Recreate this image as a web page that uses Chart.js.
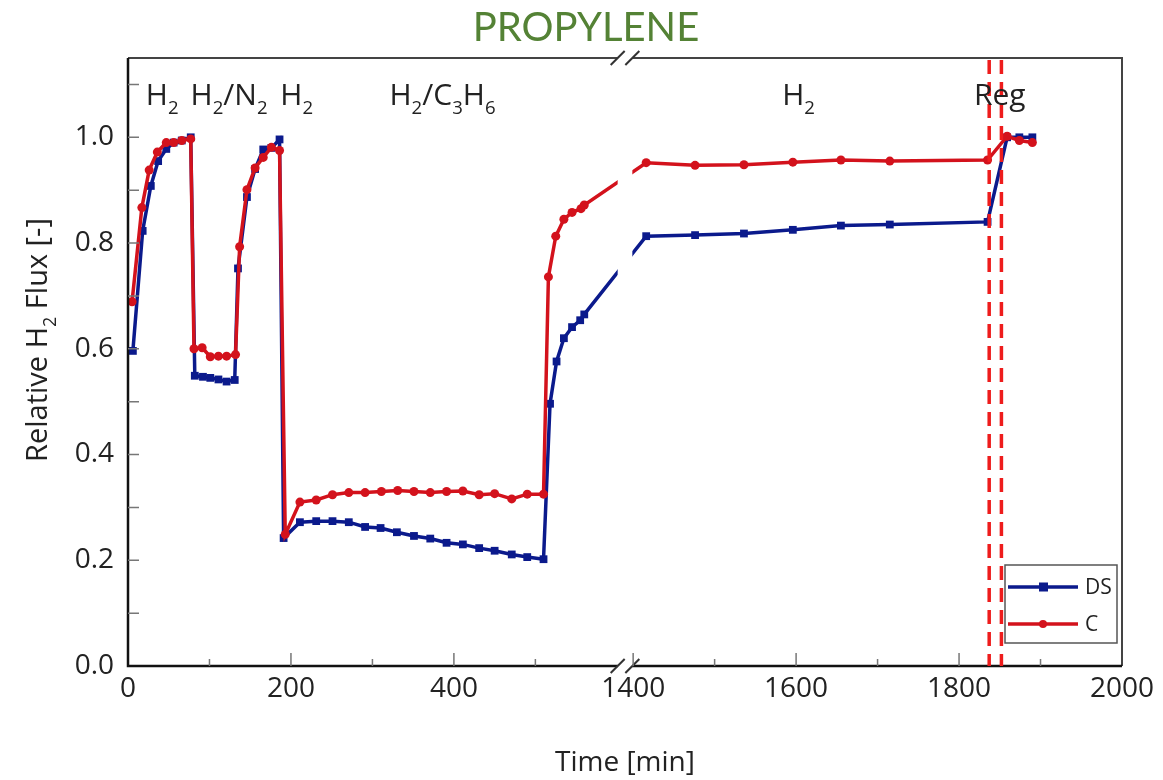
<!DOCTYPE html>
<html>
<head>
<meta charset="utf-8">
<script src="https://cdn.jsdelivr.net/npm/chart.js@4.4.0/dist/chart.umd.min.js"></script>
<style>
html, body { margin: 0; padding: 0; background: #fff; }
</style>
</head>
<body>
<canvas id="propileno" width="1163" height="780"></canvas>
<script>
// datos (tiempo en min, flujo relativo de H2)
const tiempo_ds = [6, 18, 28, 37, 47, 56, 66, 77,
    82, 92, 101, 111, 121, 131,
    135, 146, 156, 166, 176, 186,
    191, 211, 231, 251, 271, 291, 310, 330, 351, 371, 391, 411, 431, 450, 471, 490, 510,
    518, 526, 535, 545, 555, 560,
    1416, 1476, 1536, 1596, 1655, 1715, 1835, 1859, 1874, 1890]
const flujo_ds = [0.596, 0.823, 0.908, 0.955, 0.978, 0.99, 0.994, 1.0,
    0.549, 0.547, 0.545, 0.542, 0.538, 0.541,
    0.752, 0.887, 0.94, 0.977, 0.98, 0.996,
    0.242, 0.272, 0.274, 0.274, 0.272, 0.263, 0.261, 0.253, 0.246, 0.241, 0.233, 0.23, 0.223, 0.218, 0.211, 0.206, 0.202,
    0.496, 0.576, 0.62, 0.641, 0.654, 0.665,
    0.813, 0.815, 0.818, 0.825, 0.833, 0.835, 0.84, 1.0, 1.0, 1.0]

const tiempo_c = [5, 17, 26, 36, 47, 56, 66, 77,
    81, 91, 101, 111, 121, 132,
    137, 146, 156, 166, 176, 186,
    193, 211, 231, 251, 271, 291, 311, 331, 351, 371, 391, 411, 431, 450, 471, 490, 510,
    516, 525, 535, 545, 556, 560,
    1416, 1476, 1536, 1596, 1655, 1715, 1835, 1859, 1874, 1890]
const flujo_c = [0.689, 0.867, 0.938, 0.972, 0.99, 0.99, 0.994, 0.997,
    0.60, 0.602, 0.585, 0.586, 0.586, 0.589,
    0.793, 0.901, 0.942, 0.962, 0.981, 0.975,
    0.249, 0.31, 0.314, 0.324, 0.328, 0.328, 0.33, 0.332, 0.33, 0.328, 0.33, 0.331, 0.324, 0.326, 0.316, 0.325, 0.325,
    0.736, 0.813, 0.845, 0.858, 0.865, 0.872,
    0.952, 0.947, 0.948, 0.953, 0.957, 0.955, 0.957, 1.002, 0.994, 0.99]

const ticks_x = [0, 200, 400, 1400, 1600, 1800, 2000]
const ticks_x_menor = [100, 300, 500, 1500, 1700, 1900]
const ticks_y = [0, 0.2, 0.4, 0.6, 0.8, 1.0]
const ticks_y_menor = [0.1, 0.3, 0.5, 0.7, 0.9, 1.1]
const lineas_reg = [1837, 1852]

// etiquetas de las etapas: [texto, subindice?]
const etapas = [
    { t: 42, partes: [['H', 0], ['2', 1]] },
    { t: 124, partes: [['H', 0], ['2', 1], ['/N', 0], ['2', 1]] },
    { t: 207, partes: [['H', 0], ['2', 1]] },
    { t: 386, partes: [['H', 0], ['2', 1], ['/C', 0], ['3', 1], ['H', 0], ['6', 1]] },
    { t: 1603, partes: [['H', 0], ['2', 1]] },
    { t: 1850, partes: [['Reg', 0]] }
]

// eje roto: 0-600 y 1400-2000
const CORTE_INI = 600
const CORTE_FIN = 1400
const HUECO = 20
function eje(t) { return t <= CORTE_INI ? t : t - CORTE_FIN + CORTE_INI + HUECO }

const azul = '#0b1a8c'
const rojo = '#d3121c'
const fuente = '"Open Sans", "DejaVu Sans", sans-serif'

const puntos_ds = tiempo_ds.map((t, i) => ({ x: eje(t), y: flujo_ds[i] }))
const puntos_c = tiempo_c.map((t, i) => ({ x: eje(t), y: flujo_c[i] }))

function texto_rico(ctx, partes, cx, base, size) {
    let total = 0
    partes.forEach(p => {
        ctx.font = (p[1] ? size * 0.62 : size) + 'px ' + fuente
        total += ctx.measureText(p[0]).width
    })
    let x = cx - total / 2
    ctx.textAlign = 'left'
    ctx.textBaseline = 'alphabetic'
    partes.forEach(p => {
        ctx.font = (p[1] ? size * 0.62 : size) + 'px ' + fuente
        ctx.fillText(p[0], x, base + (p[1] ? size * 0.3 : 0))
        x += ctx.measureText(p[0]).width
    })
}

const decorado = {
    id: 'decorado',
    afterDatasetsDraw(chart) {
        const ctx = chart.ctx
        const a = chart.chartArea
        const sx = chart.scales.x
        const sy = chart.scales.y
        const g1 = sx.getPixelForValue(CORTE_INI + 1)
        const g2 = sx.getPixelForValue(CORTE_INI + HUECO - 1)
        ctx.save()

        // hueco del eje roto
        ctx.fillStyle = '#fff'
        ctx.fillRect(g1, a.top - 4, g2 - g1, a.bottom - a.top + 8)

        // marco
        ctx.lineCap = 'butt'
        ctx.strokeStyle = '#444'
        ctx.lineWidth = 2
        ctx.beginPath()
        ctx.moveTo(a.left, a.top); ctx.lineTo(g1, a.top)
        ctx.moveTo(g2, a.top); ctx.lineTo(a.right, a.top); ctx.lineTo(a.right, a.bottom)
        ctx.stroke()
        ctx.strokeStyle = '#111'
        ctx.lineWidth = 2.5
        ctx.beginPath()
        ctx.moveTo(a.left, a.top); ctx.lineTo(a.left, a.bottom); ctx.lineTo(g1, a.bottom)
        ctx.moveTo(g2, a.bottom); ctx.lineTo(a.right, a.bottom)
        ctx.stroke()

        // marcas de corte
        ctx.lineWidth = 2
        ctx.strokeStyle = '#333'
        ;[a.top, a.bottom].forEach(y => {
            [g1, g2].forEach(x => {
                ctx.beginPath()
                ctx.moveTo(x - 7, y + 7)
                ctx.lineTo(x + 7, y - 7)
                ctx.stroke()
            })
        })

        // ticks hacia dentro
        ctx.strokeStyle = '#777'
        ctx.lineWidth = 1.5
        ctx.beginPath()
        ticks_x.forEach(t => {
            const x = sx.getPixelForValue(eje(t))
            if (t === 0 || t === 2000) return
            ctx.moveTo(x, a.bottom); ctx.lineTo(x, a.bottom - 13)
        })
        ticks_x_menor.forEach(t => {
            const x = sx.getPixelForValue(eje(t))
            ctx.moveTo(x, a.bottom); ctx.lineTo(x, a.bottom - 7)
        })
        ticks_y.concat(ticks_y_menor).forEach(v => {
            if (v === 0) return
            const y = sy.getPixelForValue(v)
            ctx.moveTo(a.left, y); ctx.lineTo(a.left + 11, y)
        })
        ctx.stroke()

        // lineas de regeneracion
        ctx.strokeStyle = '#ee1c1c'
        ctx.lineWidth = 3.5
        ctx.setLineDash([14, 8])
        lineas_reg.forEach(t => {
            const x = sx.getPixelForValue(eje(t))
            ctx.beginPath()
            ctx.moveTo(x, a.top + 2); ctx.lineTo(x, a.bottom)
            ctx.stroke()
        })
        ctx.setLineDash([])

        // etiquetas de etapas
        ctx.fillStyle = '#222'
        etapas.forEach(e => {
            texto_rico(ctx, e.partes, sx.getPixelForValue(eje(e.t)), sy.getPixelForValue(1.062), 30)
        })

        // titulo eje y
        ctx.save()
        ctx.translate(47, 340)
        ctx.rotate(-Math.PI / 2)
        texto_rico(ctx, [['Relative H', 0], ['2', 1], [' Flux [-]', 0]], 0, 0, 29)
        ctx.restore()

        // leyenda
        const lx = a.right - 117
        const ly = a.bottom - 101
        ctx.fillStyle = '#fff'
        ctx.fillRect(lx, ly, 112, 78)
        ctx.strokeStyle = '#555'
        ctx.lineWidth = 1.5
        ctx.strokeRect(lx, ly, 112, 78)
        const filas = [['DS', azul, 'rect', ly + 22], ['C', rojo, 'circ', ly + 59]]
        filas.forEach(f => {
            ctx.strokeStyle = f[1]
            ctx.fillStyle = f[1]
            ctx.lineWidth = 3.5
            ctx.beginPath()
            ctx.moveTo(lx + 3, f[3]); ctx.lineTo(lx + 73, f[3])
            ctx.stroke()
            if (f[2] === 'rect') ctx.fillRect(lx + 34, f[3] - 4.5, 9, 9)
            else { ctx.beginPath(); ctx.arc(lx + 38, f[3], 4, 0, Math.PI * 2); ctx.fill() }
            ctx.fillStyle = '#222'
            ctx.font = '21px ' + fuente
            ctx.textAlign = 'left'
            ctx.textBaseline = 'middle'
            ctx.fillText(f[0], lx + 80, f[3] + 1)
        })
        ctx.restore()
    }
}

const propileno = document.getElementById('propileno').getContext('2d')

new Chart(propileno, {
    type: 'line',
    data: {
        datasets: [{
            label: 'C',
            data: puntos_c,
            borderColor: rojo,
            backgroundColor: rojo,
            pointStyle: 'circle',
            pointRadius: 4.5,
            pointBorderWidth: 0,
            borderWidth: 3.5,
            tension: 0,
            order: 0
        }, {
            label: 'DS',
            data: puntos_ds,
            borderColor: azul,
            backgroundColor: azul,
            pointStyle: 'rect',
            pointRadius: 5.5,
            pointBorderWidth: 0,
            borderWidth: 3.5,
            tension: 0,
            order: 1
        }]
    },
    options: {
        responsive: false,
        animation: false,
        devicePixelRatio: 1,
        layout: { padding: { left: 9 } },
        scales: {
            x: {
                type: 'linear',
                min: 0,
                max: eje(2000),
                afterBuildTicks: s => { s.ticks = ticks_x.map(t => ({ value: eje(t) })) },
                afterFit: s => { s.height = 114 },
                ticks: {
                    autoSkip: false,
                    maxRotation: 0,
                    padding: 6,
                    color: '#222',
                    font: { size: 28, family: fuente },
                    callback: v => ticks_x.find(t => eje(t) === v)
                },
                grid: { display: false, drawTicks: false },
                border: { display: false },
                title: {
                    display: true,
                    text: 'Time [min]',
                    color: '#222',
                    padding: 0,
                    font: { size: 28, family: fuente }
                }
            },
            y: {
                min: 0,
                max: 1.15,
                afterBuildTicks: s => { s.ticks = ticks_y.map(v => ({ value: v })) },
                afterFit: s => { s.width = 119 },
                ticks: {
                    padding: 14,
                    color: '#222',
                    font: { size: 28, family: fuente },
                    callback: v => v.toFixed(1)
                },
                grid: { display: false, drawTicks: false },
                border: { display: false }
            },
            // eje vacio a la derecha, solo reserva espacio
            derecha: {
                axis: 'y',
                position: 'right',
                min: 0,
                max: 1.15,
                afterFit: s => { s.width = 41 },
                ticks: { display: false },
                grid: { display: false, drawTicks: false },
                border: { display: false }
            }
        },
        plugins: {
            legend: { display: false },
            tooltip: { enabled: false },
            title: {
                display: true,
                text: 'PROPYLENE',
                color: '#548235',
                padding: { top: 4, bottom: 6 },
                font: { size: 40, weight: 'normal', family: 'Lato, "Open Sans", sans-serif' }
            }
        }
    },
    plugins: [decorado]
});
</script>
</body>
</html>
